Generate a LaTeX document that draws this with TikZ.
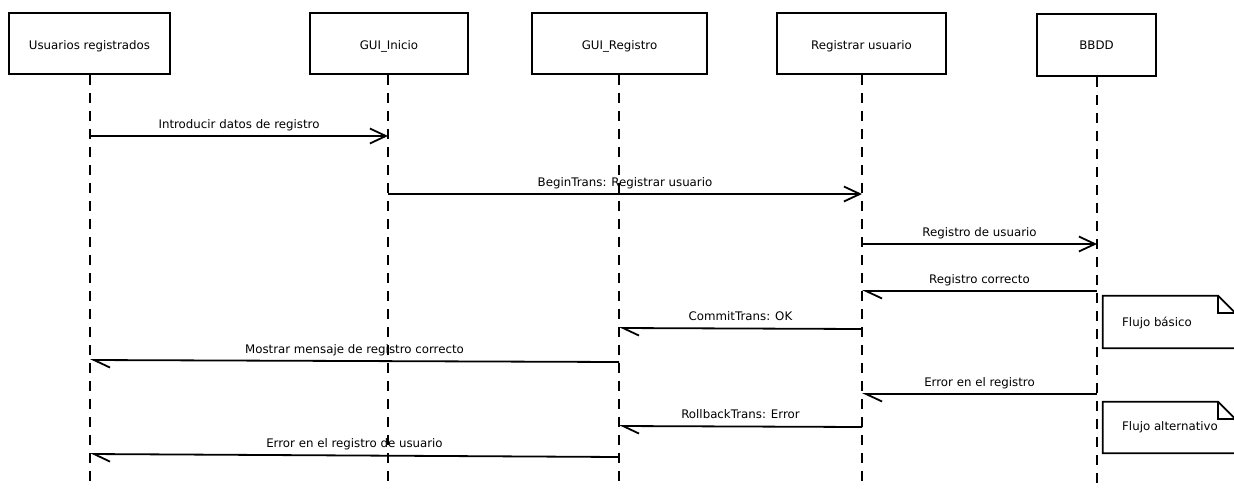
\documentclass[tikz,border=0pt]{standalone}
\usepackage{fontspec}
\setmainfont{DejaVu Sans}
\usetikzlibrary{arrows.meta,calc}

\begin{document}
\begin{tikzpicture}[x=1pt,y=-1pt,
  every node/.style={font=\fontsize{11.8}{14}\selectfont, inner sep=0pt},
  actor/.style={draw, line width=1.9pt, rectangle, minimum height=61pt},
  actortext/.style={anchor=base},
  lifeline/.style={line width=1.9pt, dash pattern=on 10pt off 8pt},
  call/.style={line width=1.8pt, -{Straight Barb[length=16pt,width=15pt]}},
  reply/.style={line width=1.8pt, -{Straight Barb[left,length=16pt,width=15pt]}},
  msglabel/.style={anchor=base, yshift=8pt},
  notebox/.style={rectangle, minimum width=132pt, minimum height=52pt},
  noteline/.style={line width=1.8pt, line join=miter},
  notetext/.style={anchor=west}]

\useasboundingbox (0,0) rectangle (1234,488);
\clip (0,0) rectangle (1234,488);

% participants
\node[actor, minimum width=161pt] (usr) at (89.5,43.5) {};
\node[actor, minimum width=158pt] (ini) at (389,43.5) {};
\node[actor, minimum width=175pt] (reg) at (619.5,43.5) {};
\node[actor, minimum width=169pt] (rus) at (861.5,43.5) {};
\node[actor, minimum width=119pt, minimum height=62pt] (bd) at (1096.5,45) {};

\node[actortext] (usrt) at (89.5,49.5) {Usuarios registrados};
\node[actortext] (init) at (389,49.5) {GUI\_Inicio};
\node[actortext] (regt) at (619.5,49.5) {GUI\_Registro};
\node[actortext] (rust) at (861.5,49.5) {Registrar usuario};
\node[actortext] (bdt) at (1096.5,49.5) {BBDD};

% lifeline ends
\coordinate (usrL) at (90,0);
\coordinate (iniL) at (388,0);
\coordinate (regL) at (619,0);
\coordinate (rusL) at (862,0);
\coordinate (bdL) at (1097,0);
\coordinate (bottom) at (0,492);

% message end points
\coordinate (m1a) at (usrL |- 0,136);   \coordinate (m1b) at (iniL |- 0,136);
\coordinate (m2a) at (iniL |- 0,194);   \coordinate (m2b) at (rusL |- 0,194);
\coordinate (m3a) at (rusL |- 0,244);   \coordinate (m3b) at (bdL |- 0,244);
\coordinate (m4a) at (bdL |- 0,291);    \coordinate (m4b) at (rusL |- 0,291);
\coordinate (m5a) at (rusL |- 0,329);   \coordinate (m5b) at (regL |- 0,328);
\coordinate (m6a) at (regL |- 0,362);   \coordinate (m6b) at (usrL |- 0,360);
\coordinate (m7a) at (bdL |- 0,394);    \coordinate (m7b) at (rusL |- 0,394);
\coordinate (m8a) at (rusL |- 0,427);   \coordinate (m8b) at (regL |- 0,426);
\coordinate (m9a) at (regL |- 0,457);   \coordinate (m9b) at (usrL |- 0,454);

% messages
\draw[call]  (m1a) -- node[msglabel] (l1) {Introducir datos de registro} (m1b);
\draw[call]  (m2a) -- node[msglabel] (l2) {BeginTrans: Registrar usuario} (m2b);
\draw[call]  (m3a) -- node[msglabel] (l3) {Registro de usuario} (m3b);
\draw[reply] (m4a) -- node[msglabel] (l4) {Registro correcto} (m4b);
\draw[reply] (m5a) -- node[msglabel] (l5) {CommitTrans: OK} (m5b);
\draw[reply] (m6a) -- node[msglabel] (l6) {Mostrar mensaje de registro correcto} (m6b);
\draw[reply] (m7a) -- node[msglabel] (l7) {Error en el registro} (m7b);
\draw[reply] (m8a) -- node[msglabel] (l8) {RollbackTrans: Error} (m8b);
\draw[reply] (m9a) -- node[msglabel] (l9) {Error en el registro de usuario} (m9b);

% lifelines
\draw[lifeline] (usr.south -| usrL) -- (usrL |- bottom);
\draw[lifeline] (ini.south -| iniL) -- (iniL |- bottom);
\draw[lifeline] (reg.south -| regL) -- (regL |- bottom);
\draw[lifeline] (rus.south -| rusL) -- (rusL |- bottom);
\draw[lifeline] (bd.south -| bdL) -- (bdL |- bottom);

% notes with a folded corner
\node[notebox] (nb) at (1169,322) {};
\node[notebox, minimum height=51pt] (na) at (1169,427.5) {};
\foreach \n in {nb,na}{
  \draw[noteline] (\n.north west) -- ($(\n.north east)+(-17,0)$)
    -- ($(\n.north east)+(0,17)$) -- (\n.south east) -- (\n.south west) -- cycle;
  \draw[noteline] ($(\n.north east)+(-17,0)$) -- ($(\n.north east)+(-17,17)$)
    -- ($(\n.north east)+(0,17)$);
}
\node[notetext] (nbt) at (1122,323.5) {Flujo básico};
\node[notetext] (nat) at (1122,427.5) {Flujo alternativo};

\end{tikzpicture}
\end{document}
